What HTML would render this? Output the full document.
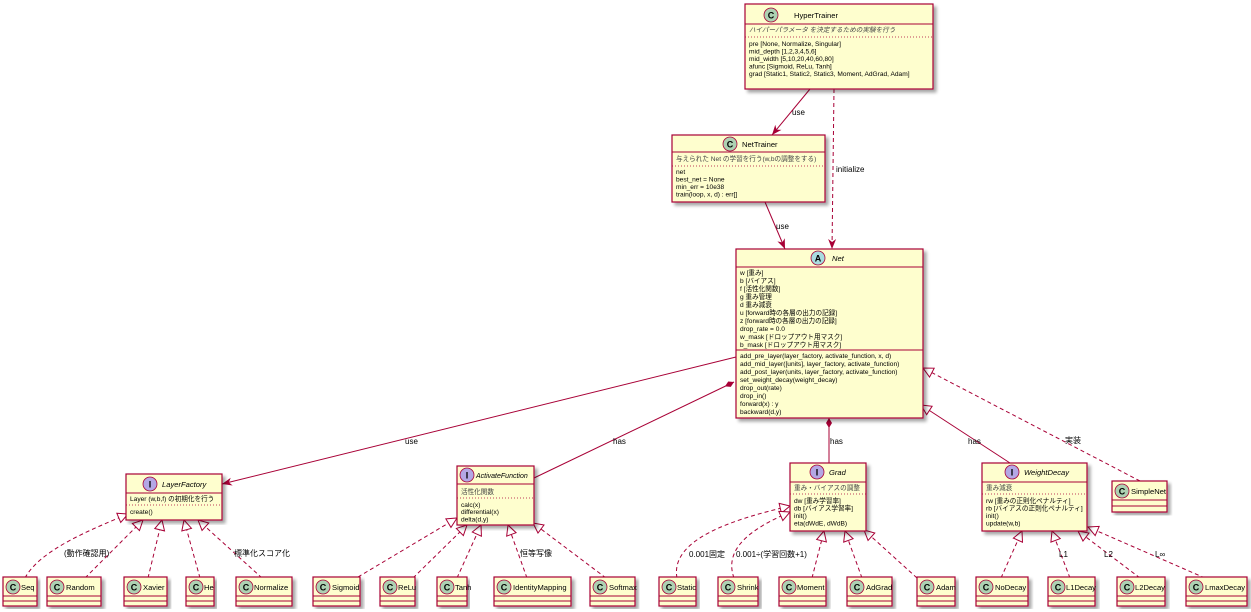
<!DOCTYPE html>
<html><head><meta charset="utf-8"><style>
html,body{margin:0;padding:0;background:#fff;}
svg{display:block;}
text{font-family:"Liberation Sans","Noto Sans CJK JP",sans-serif;font-size:6.6px;fill:#000;}
.n{font-size:7.6px;}
.i{font-style:italic;}
.note{fill:#444;}
.lb{font-size:8px;}
.ic{font-size:9px;font-weight:bold;text-anchor:middle;}
rect.b{fill:#FEFECE;stroke:#A80036;stroke-width:1.2;}
line.s{stroke:#A80036;stroke-width:1;}
line.d{stroke:#A80036;stroke-width:0.8;stroke-dasharray:1,2;}
.e{stroke:#A80036;stroke-width:1;fill:none;}
.ed{stroke:#A80036;stroke-width:1;fill:none;stroke-dasharray:4,3;}
</style></head><body>
<svg width="1251" height="612" viewBox="0 0 1251 612" xmlns="http://www.w3.org/2000/svg">
<defs>
<marker id="tri" viewBox="0 0 12 12" refX="11" refY="6" markerWidth="12" markerHeight="12" markerUnits="userSpaceOnUse" orient="auto"><path d="M1,1 L11,6 L1,11 Z" fill="#fff" stroke="#A80036"/></marker>
<marker id="arr" viewBox="0 0 10 10" refX="10" refY="5" markerWidth="10" markerHeight="10" markerUnits="userSpaceOnUse" orient="auto"><path d="M0,1 L10,5 L0,9 L3,5 Z" fill="#A80036"/></marker>
<marker id="dia" viewBox="0 0 12 8" refX="1" refY="4" markerWidth="12" markerHeight="8" markerUnits="userSpaceOnUse" orient="auto"><path d="M1,4 L6,1 L11,4 L6,7 Z" fill="#A80036"/></marker>
<filter id="sh"><feDropShadow dx="3" dy="3" stdDeviation="1.5" flood-color="#000" flood-opacity="0.35"/></filter>
</defs>

<!-- edges -->
<line class="e" x1="810" y1="89" x2="772" y2="135" marker-end="url(#arr)"/>
<text class="lb" x="792" y="115">use</text>
<line class="ed" x1="834" y1="89" x2="832" y2="249" marker-end="url(#arr)"/>
<text class="lb" x="836" y="172">initialize</text>
<line class="e" x1="765" y1="202" x2="785" y2="249" marker-end="url(#arr)"/>
<text class="lb" x="776" y="229">use</text>
<line class="e" x1="736" y1="357" x2="222" y2="484" marker-end="url(#arr)"/>
<text class="lb" x="405" y="444">use</text>
<line class="e" x1="734" y1="382" x2="534" y2="478" marker-start="url(#dia)"/>
<text class="lb" x="613" y="444">has</text>
<line class="e" x1="829" y1="418" x2="829" y2="463" marker-start="url(#dia)"/>
<text class="lb" x="830" y="444">has</text>
<line class="e" x1="1010" y1="463" x2="921" y2="405" marker-end="url(#tri)"/>
<text class="lb" x="968" y="444">has</text>
<line class="ed" x1="1140" y1="481" x2="923" y2="368" marker-end="url(#tri)"/>
<text class="lb" x="1065" y="443">実装</text>

<!-- LayerFactory children -->
<path class="ed" d="M25,578 C40,550 90,530 128,514" marker-end="url(#tri)"/>
<text class="lb" x="64" y="556">(動作確認用)</text>
<line class="ed" x1="85" y1="578" x2="143" y2="520" marker-end="url(#tri)"/>
<line class="ed" x1="148" y1="578" x2="162" y2="520" marker-end="url(#tri)"/>
<line class="ed" x1="200" y1="578" x2="184" y2="520" marker-end="url(#tri)"/>
<line class="ed" x1="262" y1="578" x2="198" y2="520" marker-end="url(#tri)"/>
<text class="lb" x="234" y="556">標準化スコア化</text>

<!-- ActivateFunction children -->
<line class="ed" x1="358" y1="577" x2="457" y2="518" marker-end="url(#tri)"/>
<line class="ed" x1="413" y1="578" x2="467" y2="525" marker-end="url(#tri)"/>
<line class="ed" x1="457" y1="578" x2="481" y2="525" marker-end="url(#tri)"/>
<line class="ed" x1="527" y1="578" x2="508" y2="525" marker-end="url(#tri)"/>
<text class="lb" x="520" y="556">恒等写像</text>
<line class="ed" x1="606" y1="578" x2="533" y2="523" marker-end="url(#tri)"/>

<!-- Grad children -->
<path class="ed" d="M677,578 C670,540 730,520 790,506" marker-end="url(#tri)"/>
<text class="lb" x="689" y="557">0.001固定</text>
<path class="ed" d="M734,578 C722,545 760,525 790,512" marker-end="url(#tri)"/>
<text class="lb" x="736" y="557">0.001÷(学習回数+1)</text>
<line class="ed" x1="812" y1="578" x2="824" y2="531" marker-end="url(#tri)"/>
<line class="ed" x1="862" y1="578" x2="845" y2="531" marker-end="url(#tri)"/>
<line class="ed" x1="917" y1="578" x2="864" y2="530" marker-end="url(#tri)"/>

<!-- WeightDecay children -->
<line class="ed" x1="1001" y1="578" x2="1022" y2="531" marker-end="url(#tri)"/>
<line class="ed" x1="1070" y1="578" x2="1052" y2="531" marker-end="url(#tri)"/>
<text class="lb" x="1059" y="557">L1</text>
<line class="ed" x1="1140" y1="578" x2="1078" y2="531" marker-end="url(#tri)"/>
<text class="lb" x="1104" y="557">L2</text>
<line class="ed" x1="1205" y1="578" x2="1088" y2="527" marker-end="url(#tri)"/>
<text class="lb" x="1155" y="557">L∞</text>

<!-- HyperTrainer -->
<rect class="b" x="745" y="4" width="188" height="85" filter="url(#sh)"/>
<circle cx="771" cy="15" r="7" fill="#ADD1B2" stroke="#A80036" stroke-width="0.8"/><text class="ic" x="771" y="18.5">C</text>
<text class="n" x="794" y="18">HyperTrainer</text>
<line class="s" x1="745" y1="24" x2="933" y2="24"/>
<text class="note i" x="749" y="32">ハイパーパラメータ を決定するための実験を行う</text>
<line class="d" x1="745" y1="37" x2="933" y2="37"/>
<text x="749" y="46">pre [None, Normalize, Singular]</text>
<text x="749" y="53.5">mid_depth [1,2,3,4,5,6]</text>
<text x="749" y="61">mid_width [5,10,20,40,60,80]</text>
<text x="749" y="68.5">afunc [Sigmoid, ReLu, Tanh]</text>
<text x="749" y="76">grad [Static1, Static2, Static3, Moment, AdGrad, Adam]</text>

<!-- NetTrainer -->
<rect class="b" x="672" y="135" width="153" height="67" filter="url(#sh)"/>
<circle cx="730" cy="144" r="7" fill="#ADD1B2" stroke="#A80036" stroke-width="0.8"/><text class="ic" x="730" y="147.5">C</text>
<text class="n" x="742" y="147">NetTrainer</text>
<line class="s" x1="672" y1="152" x2="825" y2="152"/>
<text class="note" x="676" y="161">与えられた Net の学習を行う(w,bの調整をする)</text>
<line class="d" x1="672" y1="166" x2="825" y2="166"/>
<text x="676" y="174">net</text>
<text x="676" y="181.5">best_net = None</text>
<text x="676" y="189">min_err = 10e38</text>
<text x="676" y="196.5">train(loop, x, d) : err[]</text>

<!-- Net -->
<rect class="b" x="736" y="249" width="187" height="169" filter="url(#sh)"/>
<circle cx="818" cy="258" r="7" fill="#A9DCDF" stroke="#A80036" stroke-width="0.8"/><text class="ic" x="818" y="261.5">A</text>
<text class="n i" x="832" y="261">Net</text>
<line class="s" x1="736" y1="267" x2="923" y2="267"/>
<text x="740" y="275">w [重み]</text>
<text x="740" y="283">b [バイアス]</text>
<text x="740" y="291">f [活性化関数]</text>
<text x="740" y="299">g 重み管理</text>
<text x="740" y="307">d 重み減衰</text>
<text x="740" y="315">u [forward時の各層の出力の記録]</text>
<text x="740" y="323">z [forward時の各層の出力の記録]</text>
<text x="740" y="331">drop_rate = 0.0</text>
<text x="740" y="339">w_mask [ドロップアウト用マスク]</text>
<text x="740" y="347">b_mask [ドロップアウト用マスク]</text>
<line class="s" x1="736" y1="350" x2="923" y2="350"/>
<text x="740" y="358">add_pre_layer(layer_factory, activate_function, x, d)</text>
<text x="740" y="366">add_mid_layer([units], layer_factory, activate_function)</text>
<text x="740" y="374">add_post_layer(units, layer_factory, activate_function)</text>
<text x="740" y="382">set_weight_decay(weight_decay)</text>
<text x="740" y="390">drop_out(rate)</text>
<text x="740" y="398">drop_in()</text>
<text x="740" y="406">forward(x) : y</text>
<text x="740" y="414">backward(d,y)</text>

<!-- LayerFactory -->
<rect class="b" x="126" y="474" width="96" height="46" filter="url(#sh)"/>
<circle cx="150" cy="484" r="7" fill="#B4A7E5" stroke="#A80036" stroke-width="0.8"/><text class="ic" x="150" y="487.5">I</text>
<text class="n i" x="162" y="487">LayerFactory</text>
<line class="s" x1="126" y1="493" x2="222" y2="493"/>
<text x="130" y="501">Layer (w,b,f) の初期化を行う</text>
<line class="d" x1="126" y1="505" x2="222" y2="505"/>
<text x="130" y="514">create()</text>

<!-- ActivateFunction -->
<rect class="b" x="457" y="466" width="77" height="59" filter="url(#sh)"/>
<circle cx="467" cy="475" r="7" fill="#B4A7E5" stroke="#A80036" stroke-width="0.8"/><text class="ic" x="467" y="478.5">I</text>
<text class="n i" x="476" y="478" style="font-size:7px">ActivateFunction</text>
<line class="s" x1="457" y1="484" x2="534" y2="484"/>
<text class="note" x="461" y="494">活性化関数</text>
<line class="d" x1="457" y1="498" x2="534" y2="498"/>
<text x="461" y="507">calc(x)</text>
<text x="461" y="514">differential(x)</text>
<text x="461" y="521.5">delta(d,y)</text>

<!-- Grad -->
<rect class="b" x="790" y="463" width="76" height="68" filter="url(#sh)"/>
<circle cx="817" cy="472" r="7" fill="#B4A7E5" stroke="#A80036" stroke-width="0.8"/><text class="ic" x="817" y="475.5">I</text>
<text class="n i" x="829" y="475">Grad</text>
<line class="s" x1="790" y1="482" x2="866" y2="482"/>
<text class="note" x="794" y="490">重み・バイアスの調整</text>
<line class="d" x1="790" y1="494" x2="866" y2="494"/>
<text x="794" y="503">dw [重み学習率]</text>
<text x="794" y="510.5">db [バイアス学習率]</text>
<text x="794" y="518">init()</text>
<text x="794" y="525.5">eta(dWdE, dWdB)</text>

<!-- WeightDecay -->
<rect class="b" x="982" y="463" width="105" height="68" filter="url(#sh)"/>
<circle cx="1012" cy="472" r="7" fill="#B4A7E5" stroke="#A80036" stroke-width="0.8"/><text class="ic" x="1012" y="475.5">I</text>
<text class="n i" x="1024" y="475">WeightDecay</text>
<line class="s" x1="982" y1="482" x2="1087" y2="482"/>
<text class="note" x="986" y="490">重み減衰</text>
<line class="d" x1="982" y1="494" x2="1087" y2="494"/>
<text x="986" y="503">rw [重みの正則化ペナルティ]</text>
<text x="986" y="510.5">rb [バイアスの正則化ペナルティ]</text>
<text x="986" y="518">init()</text>
<text x="986" y="525.5">update(w,b)</text>

<!-- SimpleNet -->
<rect class="b" x="1112" y="481" width="55" height="31" filter="url(#sh)"/>
<circle cx="1122" cy="491" r="7" fill="#ADD1B2" stroke="#A80036" stroke-width="0.8"/><text class="ic" x="1122" y="494.5">C</text>
<text class="n" x="1131" y="494">SimpleNet</text>
<line class="s" x1="1112" y1="500" x2="1167" y2="500"/>
<line class="s" x1="1112" y1="506" x2="1167" y2="506"/>

<!-- bottom row classes -->
<g>
<rect class="b" x="3" y="577" width="34" height="29" filter="url(#sh)"/><circle cx="13" cy="587" r="7" fill="#ADD1B2" stroke="#A80036" stroke-width="0.8"/><text class="ic" x="13" y="590.5">C</text><text class="n" x="21" y="590">Seq</text><line class="s" x1="3" y1="596" x2="37" y2="596"/><line class="s" x1="3" y1="601" x2="37" y2="601"/>
<rect class="b" x="47" y="577" width="54" height="29" filter="url(#sh)"/><circle cx="57" cy="587" r="7" fill="#ADD1B2" stroke="#A80036" stroke-width="0.8"/><text class="ic" x="57" y="590.5">C</text><text class="n" x="66" y="590">Random</text><line class="s" x1="47" y1="596" x2="101" y2="596"/><line class="s" x1="47" y1="601" x2="101" y2="601"/>
<rect class="b" x="124" y="577" width="43" height="29" filter="url(#sh)"/><circle cx="134" cy="587" r="7" fill="#ADD1B2" stroke="#A80036" stroke-width="0.8"/><text class="ic" x="134" y="590.5">C</text><text class="n" x="143" y="590">Xavier</text><line class="s" x1="124" y1="596" x2="167" y2="596"/><line class="s" x1="124" y1="601" x2="167" y2="601"/>
<rect class="b" x="186" y="577" width="28" height="29" filter="url(#sh)"/><circle cx="196" cy="587" r="7" fill="#ADD1B2" stroke="#A80036" stroke-width="0.8"/><text class="ic" x="196" y="590.5">C</text><text class="n" x="204" y="590">He</text><line class="s" x1="186" y1="596" x2="214" y2="596"/><line class="s" x1="186" y1="601" x2="214" y2="601"/>
<rect class="b" x="236" y="577" width="56" height="29" filter="url(#sh)"/><circle cx="246" cy="587" r="7" fill="#ADD1B2" stroke="#A80036" stroke-width="0.8"/><text class="ic" x="246" y="590.5">C</text><text class="n" x="254" y="590">Normalize</text><line class="s" x1="236" y1="596" x2="292" y2="596"/><line class="s" x1="236" y1="601" x2="292" y2="601"/>
<rect class="b" x="313" y="577" width="47" height="29" filter="url(#sh)"/><circle cx="323" cy="587" r="7" fill="#ADD1B2" stroke="#A80036" stroke-width="0.8"/><text class="ic" x="323" y="590.5">C</text><text class="n" x="332" y="590">Sigmoid</text><line class="s" x1="313" y1="596" x2="360" y2="596"/><line class="s" x1="313" y1="601" x2="360" y2="601"/>
<rect class="b" x="380" y="577" width="35" height="29" filter="url(#sh)"/><circle cx="390" cy="587" r="7" fill="#ADD1B2" stroke="#A80036" stroke-width="0.8"/><text class="ic" x="390" y="590.5">C</text><text class="n" x="398" y="590">ReLu</text><line class="s" x1="380" y1="596" x2="415" y2="596"/><line class="s" x1="380" y1="601" x2="415" y2="601"/>
<rect class="b" x="437" y="577" width="30" height="29" filter="url(#sh)"/><circle cx="447" cy="587" r="7" fill="#ADD1B2" stroke="#A80036" stroke-width="0.8"/><text class="ic" x="447" y="590.5">C</text><text class="n" x="455" y="590">Tanh</text><line class="s" x1="437" y1="596" x2="467" y2="596"/><line class="s" x1="437" y1="601" x2="467" y2="601"/>
<rect class="b" x="494" y="577" width="77" height="29" filter="url(#sh)"/><circle cx="504" cy="587" r="7" fill="#ADD1B2" stroke="#A80036" stroke-width="0.8"/><text class="ic" x="504" y="590.5">C</text><text class="n" x="513" y="590">IdentityMapping</text><line class="s" x1="494" y1="596" x2="571" y2="596"/><line class="s" x1="494" y1="601" x2="571" y2="601"/>
<rect class="b" x="590" y="577" width="45" height="29" filter="url(#sh)"/><circle cx="600" cy="587" r="7" fill="#ADD1B2" stroke="#A80036" stroke-width="0.8"/><text class="ic" x="600" y="590.5">C</text><text class="n" x="609" y="590">Softmax</text><line class="s" x1="590" y1="596" x2="635" y2="596"/><line class="s" x1="590" y1="601" x2="635" y2="601"/>
<rect class="b" x="659" y="577" width="37" height="29" filter="url(#sh)"/><circle cx="669" cy="587" r="7" fill="#ADD1B2" stroke="#A80036" stroke-width="0.8"/><text class="ic" x="669" y="590.5">C</text><text class="n" x="677" y="590">Static</text><line class="s" x1="659" y1="596" x2="696" y2="596"/><line class="s" x1="659" y1="601" x2="696" y2="601"/>
<rect class="b" x="718" y="577" width="40" height="29" filter="url(#sh)"/><circle cx="728" cy="587" r="7" fill="#ADD1B2" stroke="#A80036" stroke-width="0.8"/><text class="ic" x="728" y="590.5">C</text><text class="n" x="737" y="590">Shrink</text><line class="s" x1="718" y1="596" x2="758" y2="596"/><line class="s" x1="718" y1="601" x2="758" y2="601"/>
<rect class="b" x="779" y="577" width="47" height="29" filter="url(#sh)"/><circle cx="789" cy="587" r="7" fill="#ADD1B2" stroke="#A80036" stroke-width="0.8"/><text class="ic" x="789" y="590.5">C</text><text class="n" x="797" y="590">Moment</text><line class="s" x1="779" y1="596" x2="826" y2="596"/><line class="s" x1="779" y1="601" x2="826" y2="601"/>
<rect class="b" x="847" y="577" width="45" height="29" filter="url(#sh)"/><circle cx="857" cy="587" r="7" fill="#ADD1B2" stroke="#A80036" stroke-width="0.8"/><text class="ic" x="857" y="590.5">C</text><text class="n" x="866" y="590">AdGrad</text><line class="s" x1="847" y1="596" x2="892" y2="596"/><line class="s" x1="847" y1="601" x2="892" y2="601"/>
<rect class="b" x="917" y="577" width="38" height="29" filter="url(#sh)"/><circle cx="927" cy="587" r="7" fill="#ADD1B2" stroke="#A80036" stroke-width="0.8"/><text class="ic" x="927" y="590.5">C</text><text class="n" x="936" y="590">Adam</text><line class="s" x1="917" y1="596" x2="955" y2="596"/><line class="s" x1="917" y1="601" x2="955" y2="601"/>
<rect class="b" x="976" y="577" width="52" height="29" filter="url(#sh)"/><circle cx="986" cy="587" r="7" fill="#ADD1B2" stroke="#A80036" stroke-width="0.8"/><text class="ic" x="986" y="590.5">C</text><text class="n" x="995" y="590">NoDecay</text><line class="s" x1="976" y1="596" x2="1028" y2="596"/><line class="s" x1="976" y1="601" x2="1028" y2="601"/>
<rect class="b" x="1048" y="577" width="47" height="29" filter="url(#sh)"/><circle cx="1058" cy="587" r="7" fill="#ADD1B2" stroke="#A80036" stroke-width="0.8"/><text class="ic" x="1058" y="590.5">C</text><text class="n" x="1066" y="590">L1Decay</text><line class="s" x1="1048" y1="596" x2="1095" y2="596"/><line class="s" x1="1048" y1="601" x2="1095" y2="601"/>
<rect class="b" x="1117" y="577" width="48" height="29" filter="url(#sh)"/><circle cx="1127" cy="587" r="7" fill="#ADD1B2" stroke="#A80036" stroke-width="0.8"/><text class="ic" x="1127" y="590.5">C</text><text class="n" x="1135" y="590">L2Decay</text><line class="s" x1="1117" y1="596" x2="1165" y2="596"/><line class="s" x1="1117" y1="601" x2="1165" y2="601"/>
<rect class="b" x="1186" y="577" width="61" height="29" filter="url(#sh)"/><circle cx="1196" cy="587" r="7" fill="#ADD1B2" stroke="#A80036" stroke-width="0.8"/><text class="ic" x="1196" y="590.5">C</text><text class="n" x="1205" y="590">LmaxDecay</text><line class="s" x1="1186" y1="596" x2="1247" y2="596"/><line class="s" x1="1186" y1="601" x2="1247" y2="601"/>
</g>
</svg>
</body></html>
